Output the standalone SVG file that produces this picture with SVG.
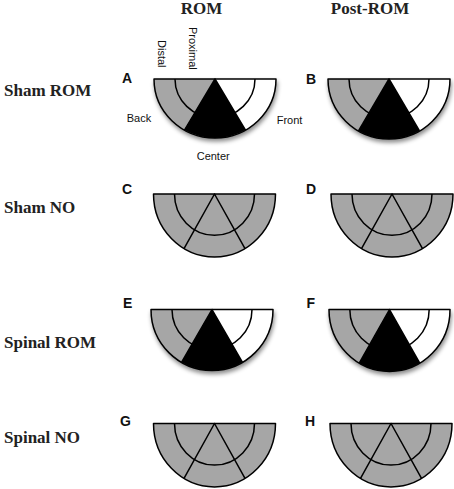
<svg xmlns="http://www.w3.org/2000/svg" xmlns:xlink="http://www.w3.org/1999/xlink" width="454" height="489" viewBox="0 0 454 489">
<style>
.title{font-family:"Liberation Serif","Times New Roman",serif;font-weight:bold;font-size:17px;fill:#222}
.row{font-family:"Liberation Serif","Times New Roman",serif;font-weight:bold;font-size:17px;fill:#222}
.letter{font-family:"Liberation Sans",Arial,sans-serif;font-weight:bold;font-size:14px;fill:#111}
.lab{font-family:"Liberation Sans",Arial,sans-serif;font-size:11px;fill:#111}
.gray{fill:#a6a6a6;stroke:none}
.black{fill:#000;stroke:none}
.white{fill:#fff;stroke:none}
.line{fill:none;stroke:#000;stroke-width:1.5;vector-effect:non-scaling-stroke;stroke-linejoin:round}
.grayline{fill:#a6a6a6;stroke:#000;stroke-width:1.5;vector-effect:non-scaling-stroke;stroke-linejoin:round}
</style>
<defs>
<filter id="shadow" x="-20%" y="-20%" width="140%" height="150%">
<feDropShadow dx="1" dy="3" stdDeviation="2" flood-color="#000" flood-opacity="0.45"/>
</filter>
<g id="romShape">
<path class="gray" d="M0,0 L-61,0 A61,61 0 0 0 -30.5,52.83 Z"/>
<path class="black" d="M0,0 L-30.5,52.83 A61,61 0 0 0 30.5,52.83 Z"/>
<path class="white" d="M0,0 L30.5,52.83 A61,61 0 0 0 61,0 Z"/>
<path class="line" d="M-40,0 A40,40 0 0 0 40,0"/>
<path class="line" d="M-30.5,52.83 L0,0 L30.5,52.83"/>
<path class="line" d="M-61,0 A61,61 0 0 0 61,0 Z"/>
</g>
<g id="noShape">
<path class="grayline" d="M-61,0 A61,61 0 0 0 61,0 Z"/>
<path class="line" d="M-40,0 A40,40 0 0 0 40,0"/>
<path class="line" d="M-30.5,52.83 L0,0 L30.5,52.83"/>
</g>
</defs>
<rect width="454" height="489" fill="#fff"/>

<g id="headers">
<text class="title" x="201.5" y="14" text-anchor="middle">ROM</text>
<text class="title" x="370" y="14" text-anchor="middle">Post-ROM</text>
</g>
<g id="rowLabels">
<text class="row" x="4" y="96">Sham ROM</text>
<text class="row" x="4" y="213">Sham NO</text>
<text class="row" x="4" y="348">Spinal ROM</text>
<text class="row" x="4" y="442.5">Spinal NO</text>
</g>

<g id="panelA">
<text class="letter" x="122" y="83">A</text>
<g transform="translate(215,79) scale(1,0.967)"><use xlink:href="#romShape" href="#romShape" filter="url(#shadow)"/></g>
<text class="lab" transform="translate(157.5,40) rotate(90)">Distal</text>
<text class="lab" transform="translate(189,27) rotate(90)">Proximal</text>
<text class="lab" x="126.7" y="122">Back</text>
<text class="lab" x="276.7" y="123.5">Front</text>
<text class="lab" x="196.7" y="159.5">Center</text>
</g>
<g id="panelB">
<text class="letter" x="306" y="83.5">B</text>
<g transform="translate(389,79) scale(1,0.984)"><use xlink:href="#romShape" href="#romShape" filter="url(#shadow)"/></g>
</g>
<g id="panelC">
<text class="letter" x="122" y="194">C</text>
<g transform="translate(214.5,194) scale(1,1.033)"><use xlink:href="#noShape" href="#noShape"/></g>
</g>
<g id="panelD">
<text class="letter" x="306" y="194">D</text>
<g transform="translate(392,194) scale(1,1.033)"><use xlink:href="#noShape" href="#noShape"/></g>
</g>
<g id="panelE">
<text class="letter" x="123" y="307.5">E</text>
<g transform="translate(212,309.5) scale(1,1)"><use xlink:href="#romShape" href="#romShape" filter="url(#shadow)"/></g>
</g>
<g id="panelF">
<text class="letter" x="306.5" y="308">F</text>
<g transform="translate(389.5,309.5) scale(0.992,1.016)"><use xlink:href="#romShape" href="#romShape" filter="url(#shadow)"/></g>
</g>
<g id="panelG">
<text class="letter" x="120" y="425.5">G</text>
<g transform="translate(214.5,423.5) scale(1,1.04)"><use xlink:href="#noShape" href="#noShape"/></g>
</g>
<g id="panelH">
<text class="letter" x="305" y="425.5">H</text>
<g transform="translate(391,423.5) scale(1,1.04)"><use xlink:href="#noShape" href="#noShape"/></g>
</g>
<g id="connectors"/>
</svg>
